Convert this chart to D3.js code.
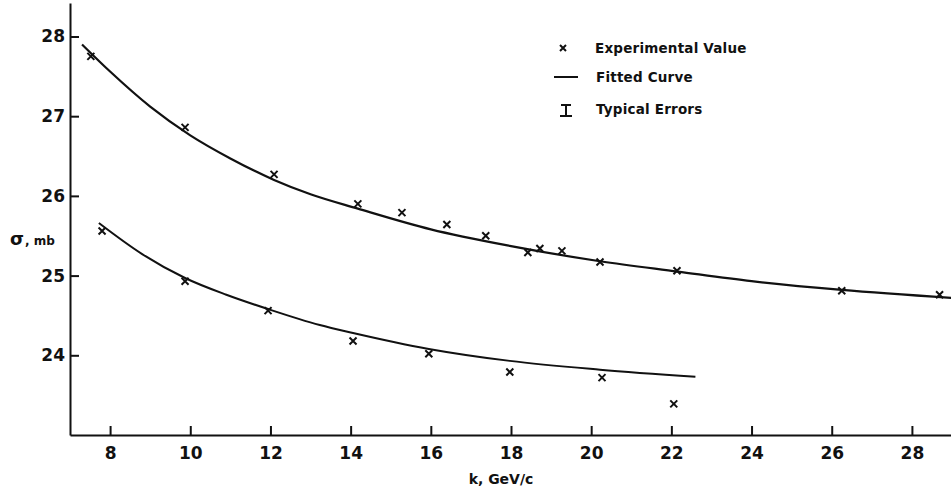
<!DOCTYPE html>
<html>
<head>
<meta charset="utf-8">
<script src="https://cdn.jsdelivr.net/npm/d3@7"></script>
<style>
  html, body { margin: 0; padding: 0; background: #fff; }
  svg { display: block; }
  text { font-family: "DejaVu Sans", sans-serif; fill: #111; }
</style>
</head>
<body>
<div id="chart"></div>
<script>
// ---- data ----
const upperK = [7.52, 9.87, 12.09, 14.18, 15.28, 16.40, 17.37, 18.42, 18.72, 19.27, 20.22, 22.14, 26.25, 28.69];
const upperSigma = [27.75, 26.86, 26.27, 25.90, 25.79, 25.64, 25.50, 25.29, 25.34, 25.31, 25.17, 25.06, 24.81, 24.76];
const lowerK = [7.80, 9.87, 11.94, 14.06, 15.95, 17.97, 20.27, 22.06];
const lowerSigma = [25.56, 24.93, 24.56, 24.18, 24.02, 23.79, 23.72, 23.39];

const upperFitK = [7.3, 8, 9, 10, 11, 12.09, 13, 14.18, 16, 18, 20.22, 22.16, 24, 26.25, 29];
const upperFitSigma = [27.9, 27.56, 27.12, 26.76, 26.47, 26.20, 26.02, 25.84, 25.58, 25.37, 25.18, 25.05, 24.93, 24.82, 24.72];
const lowerFitK = [7.72, 8.8, 9.87, 10.9, 11.94, 13.23, 14.06, 15.95, 17.97, 20.22, 22.6];
const lowerFitSigma = [25.66, 25.27, 24.97, 24.76, 24.58, 24.38, 24.28, 24.08, 23.93, 23.82, 23.73];

const xTicks = [8, 10, 12, 14, 16, 18, 20, 22, 24, 26, 28];
const yTicks = [24, 25, 26, 27, 28];
const legendLabels = ["Experimental Value", "Fitted Curve", "Typical Errors"];

// ---- layout ----
const W = 951, H = 493;
const svg = d3.select("#chart").append("svg").attr("width", W).attr("height", H);

const x = d3.scaleLinear().domain([7, 29]).range([70, 952]);
const y = d3.scaleLinear().domain([23, 28.42]).range([435, 3]);

// axes
const xAxis = d3.axisBottom(x).tickValues(xTicks).tickSizeInner(-9).tickSizeOuter(0).tickPadding(12).tickFormat(d3.format("d"));
const yAxis = d3.axisLeft(y).tickValues(yTicks).tickSizeInner(-9).tickSizeOuter(0).tickPadding(5).tickFormat(d3.format("d"));

const gx = svg.append("g").attr("transform", `translate(0,${y(23)})`).call(xAxis);
const gy = svg.append("g").attr("transform", `translate(${x(7)},0)`).call(yAxis);
[gx, gy].forEach(g => {
  g.select(".domain").attr("stroke", "#111").attr("stroke-width", 2);
  g.selectAll(".tick line").attr("stroke", "#111").attr("stroke-width", 2);
  g.selectAll(".tick text").attr("font-size", 17).attr("font-weight", "bold")
    .attr("font-family", "DejaVu Sans, sans-serif").attr("fill", "#111");
});
gx.selectAll(".tick text").attr("dy", "0.71em");

// axis labels
svg.append("text").attr("x", 501).attr("y", 484).attr("text-anchor", "middle")
  .attr("font-size", 14).attr("font-weight", "bold").text("k,  GeV/c");
svg.append("text").attr("x", 10).attr("y", 245)
  .attr("font-size", 18).attr("font-weight", "bold")
  .html('σ<tspan font-size="12" dx="1">, mb</tspan>');

// curves
const line = d3.line().x(d => x(d[0])).y(d => y(d[1])).curve(d3.curveMonotoneX);
svg.append("path").datum(d3.zip(upperFitK, upperFitSigma)).attr("d", line)
  .attr("fill", "none").attr("stroke", "#111").attr("stroke-width", 2.2);
svg.append("path").datum(d3.zip(lowerFitK, lowerFitSigma)).attr("d", line)
  .attr("fill", "none").attr("stroke", "#111").attr("stroke-width", 2);

// markers
function cross(g, cx, cy, s) {
  g.append("path").attr("d", `M${cx - s},${cy - s}L${cx + s},${cy + s}M${cx - s},${cy + s}L${cx + s},${cy - s}`)
    .attr("stroke", "#111").attr("stroke-width", 2).attr("fill", "none");
}
const gm = svg.append("g");
d3.zip(upperK, upperSigma).concat(d3.zip(lowerK, lowerSigma)).forEach(d => cross(gm, x(d[0]), y(d[1]), 3.5));

// legend
const lg = svg.append("g");
cross(lg, 563, 48, 3);
lg.append("line").attr("x1", 554).attr("x2", 578).attr("y1", 77).attr("y2", 77).attr("stroke", "#111").attr("stroke-width", 2);
lg.append("path").attr("d", "M561,105L571,105M566,105L566,116M560,116L572,116")
  .attr("stroke", "#111").attr("stroke-width", 2).attr("fill", "none");
legendLabels.forEach((t, i) => {
  lg.append("text").attr("x", i === 0 ? 595 : 596).attr("y", [53, 82, 114][i])
    .attr("font-size", 13.5).attr("font-weight", "bold").attr("letter-spacing", 0.2).text(t);
});
</script>
</body>
</html>
